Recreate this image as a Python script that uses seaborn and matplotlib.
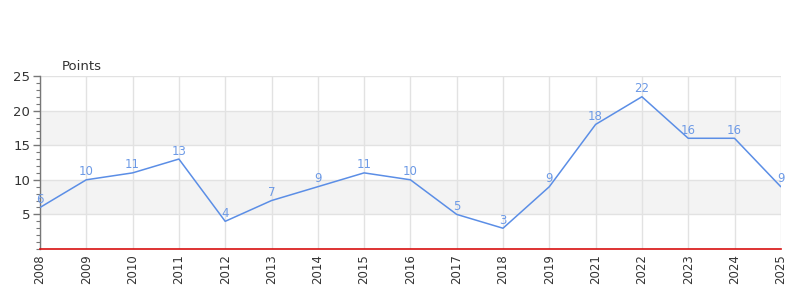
import matplotlib
matplotlib.use("Agg")
import matplotlib.pyplot as plt
import seaborn as sns
import pandas as pd
from matplotlib.ticker import MultipleLocator, FixedLocator

years = ["2008", "2009", "2010", "2011", "2012", "2013", "2014", "2015", "2016",
         "2017", "2018", "2019", "2021", "2022", "2023", "2024", "2025"]
points = [6, 10, 11, 13, 4, 7, 9, 11, 10, 5, 3, 9, 18, 22, 16, 16, 9]
y_ticks = [5, 10, 15, 20, 25]

sns.set_theme(style="white")
plt.rcParams['font.family'] = ['DejaVu Sans']

df = pd.DataFrame({"year": years, "points": points, "idx": range(len(years))})

fig = plt.figure(figsize=(8, 3), dpi=100)
ax = fig.add_axes([0.05, 0.17, 0.926, 0.5767])

# bands
for lo, hi in [(5, 10), (15, 20)]:
    ax.axhspan(lo, hi, color="#f3f3f3", zorder=0, lw=0)

sns.lineplot(data=df, x="idx", y="points", ax=ax, color="#5b8ee6", linewidth=1.1, zorder=3)

for i, v in zip(df["idx"], df["points"]):
    ax.annotate(str(v), (i, v), xytext=(0, 1), textcoords="offset points",
                ha="center", va="bottom", fontsize=8.5, color="#6d9ae6", zorder=4)

ax.set_xlim(0, len(years) - 1)
ax.set_ylim(0, 25)
ax.set_xticks(list(range(len(years))))
ax.set_xticklabels(years, rotation=90, fontsize=8.5, color="#333333")
ax.yaxis.set_major_locator(FixedLocator(y_ticks))
ax.yaxis.set_minor_locator(MultipleLocator(1))
ax.tick_params(axis="y", which="major", length=5, width=1, color="#777777",
               labelsize=9.5, labelcolor="#333333", left=True, pad=2)
ax.tick_params(axis="y", which="minor", length=3, width=0.8, color="#777777", left=True)
ax.tick_params(axis="x", length=0, pad=4)

ax.grid(True, which="major", color="#e2e2e2", linewidth=1, zorder=1)
ax.set_axisbelow(True)

for s in ["top", "right"]:
    ax.spines[s].set_visible(False)
ax.spines["left"].set_color("#777777")
ax.spines["left"].set_linewidth(1)
ax.spines["bottom"].set_color("#d81010")
ax.spines["bottom"].set_linewidth(1.2)

ax.set_xlabel("")
ax.set_ylabel("")
fig.text(62 / 800, 1 - 66 / 300, "Points", fontsize=9.5, color="#333333",
         ha="left", va="center")

fig.savefig("out.png", dpi=100)
